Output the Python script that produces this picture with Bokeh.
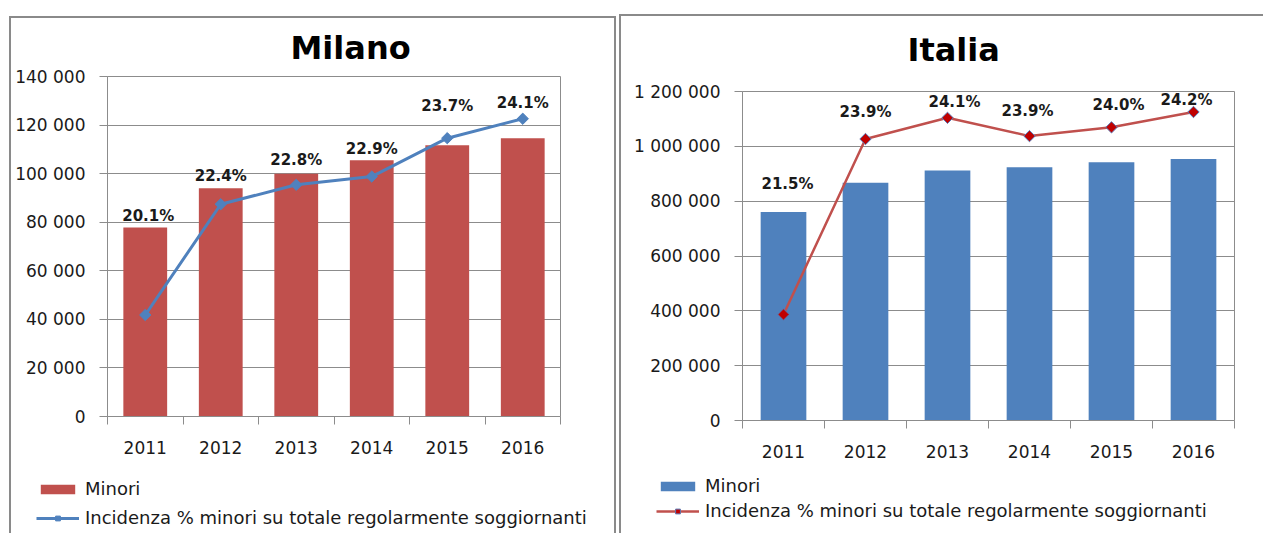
from bokeh.plotting import figure
from bokeh.models import Range1d, FixedTicker, Legend, LegendItem, ColumnDataSource
from bokeh.layouts import row, column
from bokeh.embed import file_html
from bokeh.resources import INLINE
from bokeh.core.properties import value
import math

# ---------------- data ----------------
years = ["2011", "2012", "2013", "2014", "2015", "2016"]

milano_minori = [77800, 94000, 100000, 105500, 111700, 114600]
milano_incidenza = [20.09, 22.37, 22.77, 22.94, 23.73, 24.13]
milano_labels = ["20.1%", "22.4%", "22.8%", "22.9%", "23.7%", "24.1%"]
milano_y_ticks = [0, 20000, 40000, 60000, 80000, 100000, 120000, 140000]
milano_y_tick_labels = ["0", "20 000", "40 000", "60 000", "80 000", "100 000", "120 000", "140 000"]

italia_minori = [760500, 867600, 911500, 924000, 942000, 954000]
italia_incidenza = [21.45, 23.85, 24.14, 23.89, 24.01, 24.22]
italia_labels = ["21.5%", "23.9%", "24.1%", "23.9%", "24.0%", "24.2%"]
italia_y_ticks = [0, 200000, 400000, 600000, 800000, 1000000, 1200000]
italia_y_tick_labels = ["0", "200 000", "400 000", "600 000", "800 000", "1 000 000", "1 200 000"]

legend_bar_label = "Minori"
legend_line_label = "Incidenza % minori su totale regolarmente soggiornanti"

# ---------------- styles ----------------
GRID = "#8c8c8c"
TXT = "#1a1a1a"
BORDER = "#8a8a8a"
FONT = "DejaVu Sans"


def no_align(p):
    try:
        p.frame_align = False
    except Exception:
        pass


def make_panel(title, bars, pct, labels, yticks, ylabels, pct_range,
               bar_color, line_color, line_width, marker_fill, marker_line,
               bar_width, W, H, bl, br, bt, bb, LH, label_dx, label_dy,
               title_offset, title_standoff, legend_loc, legend_spacing):
    ymax = yticks[-1]
    p = figure(width=W, height=H, output_backend="svg", toolbar_location=None,
               x_range=Range1d(0, len(years)), y_range=Range1d(0, ymax),
               min_border_left=bl, min_border_right=br, min_border_top=bt,
               min_border_bottom=bb, title=title)
    no_align(p)
    p.extra_y_ranges = {"pct": Range1d(*pct_range)}
    p.border_fill_alpha = 0
    p.background_fill_color = "white"
    p.outline_line_color = GRID
    p.outline_line_width = 1

    p.title.text_font = FONT
    p.title.text_font_style = "bold"
    p.title.text_font_size = "32px"
    p.title.text_color = "#000000"
    p.title.align = "left"
    p.title.offset = title_offset
    p.title.standoff = title_standoff

    centers = [i + 0.5 for i in range(len(years))]

    xa = p.xaxis[0]
    xa.ticker = FixedTicker(ticks=centers, minor_ticks=list(range(len(years) + 1)))
    xa.major_label_overrides = {c: y for c, y in zip(centers, years)}
    xa.major_tick_out = 0
    xa.major_tick_in = 0
    xa.minor_tick_out = 8
    xa.minor_tick_in = 0
    xa.minor_tick_line_color = GRID
    xa.axis_line_color = GRID
    xa.major_label_standoff = 16
    xa.major_label_text_font = FONT
    xa.major_label_text_font_size = "17px"
    xa.major_label_text_color = TXT

    ya = p.yaxis[0]
    yt = FixedTicker(ticks=yticks)
    ya.ticker = yt
    ya.major_label_overrides = {t: l for t, l in zip(yticks, ylabels)}
    ya.major_tick_out = 8
    ya.major_tick_in = 0
    ya.minor_tick_out = 0
    ya.minor_tick_in = 0
    ya.major_tick_line_color = GRID
    ya.axis_line_color = GRID
    ya.major_label_standoff = 14
    ya.major_label_text_font = FONT
    ya.major_label_text_font_size = "17px"
    ya.major_label_text_color = TXT

    p.xgrid.visible = False
    p.ygrid.ticker = yt
    p.ygrid.grid_line_color = GRID
    p.ygrid.grid_line_width = 1

    p.vbar(x=centers, top=bars, width=bar_width, fill_color=bar_color,
           line_color=None)
    p.line(x=centers, y=pct, y_range_name="pct", line_color=line_color,
           line_width=line_width)
    p.scatter(x=centers, y=pct, y_range_name="pct", marker="square",
              angle=math.pi / 4, size=8, fill_color=marker_fill,
              line_color=marker_line, line_width=1)

    lo, hi = pct_range
    anchors = [max(b, (v - lo) / (hi - lo) * ymax) for b, v in zip(bars, pct)]
    src = ColumnDataSource(dict(x=centers, y=anchors, t=labels, dx=label_dx, dy=label_dy))
    p.text(x="x", y="y", text="t", x_offset="dx", y_offset="dy", source=src,
           text_align="center", text_baseline="middle",
           text_font=value(FONT), text_font_style="bold",
           text_font_size="15px", text_color=TXT)

    # legend strip (its own canvas so the legend is not clipped by the frame)
    lg = figure(width=W, height=LH, output_backend="svg", toolbar_location=None,
                x_range=Range1d(0, 1), y_range=Range1d(0, 1),
                x_axis_location=None, y_axis_location=None,
                min_border_left=0, min_border_right=0, min_border_top=0,
                min_border_bottom=0)
    no_align(lg)
    lg.border_fill_alpha = 0
    lg.background_fill_alpha = 0
    lg.outline_line_color = None
    lg.xgrid.visible = False
    lg.ygrid.visible = False
    # off-range proxies: they only supply the legend swatches
    vb = lg.vbar(x=[-5], top=[-5], width=0.5, fill_color=bar_color, line_color=None)
    ln = lg.line(x=[-5, -4], y=[-5, -5], line_color=line_color, line_width=line_width)
    mk = lg.scatter(x=[-5], y=[-5], marker="square", angle=math.pi / 4, size=8,
                    fill_color=marker_fill, line_color=marker_line, line_width=1)
    legend = Legend(items=[LegendItem(label=legend_bar_label, renderers=[vb]),
                           LegendItem(label=legend_line_label, renderers=[ln, mk])],
                    location=legend_loc, orientation="vertical",
                    glyph_width=43, glyph_height=12, label_standoff=6,
                    spacing=legend_spacing, padding=0, margin=0,
                    border_line_alpha=0, background_fill_alpha=0,
                    label_text_font=FONT, label_text_font_size="18px",
                    label_text_color=TXT)
    lg.add_layout(legend)
    return column(p, lg)


c1 = make_panel("Milano", milano_minori, milano_incidenza, milano_labels,
                milano_y_ticks, milano_y_tick_labels, (18, 25),
                "#C0504D", "#4F81BD", 3, "#4F81BD", "#4F81BD", 0.58,
                616, 466, 107, 56, 76, 50, 67,
                [3, 0, 0, 0, 0, 0], [-12, -12, -14, -11, -32, -16],
                183, 19, (36, 5), 8)

c2 = make_panel("Italia", italia_minori, italia_incidenza, italia_labels,
                italia_y_ticks, italia_y_tick_labels, (20, 24.5),
                "#4F81BD", "#C0504D", 2.5, "#C00000", "#5A78B4", 0.557,
                647, 470, 126, 29, 91, 50, 63,
                [4, 0, 7, -2, 7, -7], [-28, -27, -16, -25, -22, -12],
                165, 46, (40, 12), 4)

bg = ", ".join([
    f"linear-gradient({BORDER},{BORDER}) 9px 16px / 607px 2px no-repeat",
    f"linear-gradient({BORDER},{BORDER}) 9px 16px / 2px 600px no-repeat",
    f"linear-gradient({BORDER},{BORDER}) 614px 16px / 2px 600px no-repeat",
    f"linear-gradient({BORDER},{BORDER}) 619px 14px / 700px 2px no-repeat",
    f"linear-gradient({BORDER},{BORDER}) 619px 14px / 2px 600px no-repeat",
])

layout = row(c1, c2, styles={"background": bg})
open("out.html", "w").write(file_html(layout, INLINE))
